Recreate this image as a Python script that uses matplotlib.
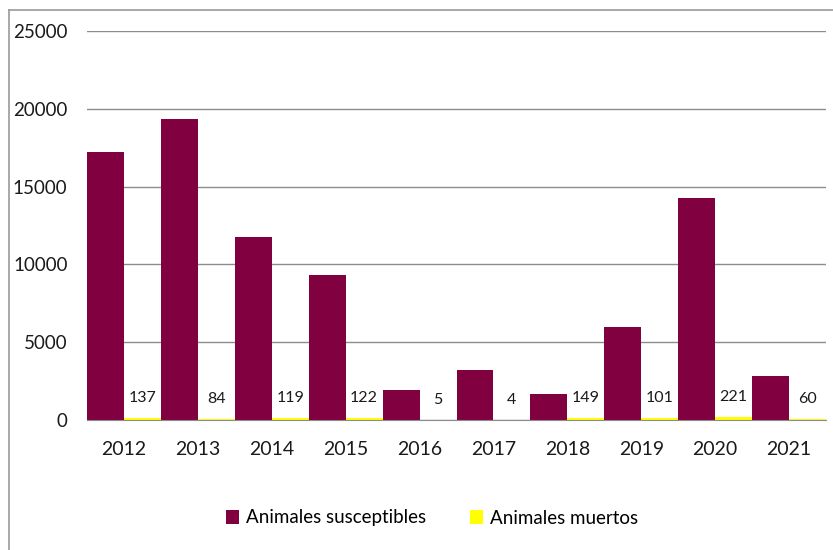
import matplotlib.pyplot as plt
import numpy as np
from matplotlib.lines import Line2D

years = ["2012", "2013", "2014", "2015", "2016", "2017", "2018", "2019", "2020", "2021"]
susceptibles = [17200, 19350, 11750, 9300, 1900, 3200, 1650, 6000, 14250, 2800]
muertos = [137, 84, 119, 122, 5, 4, 149, 101, 221, 60]

MAROON = "#800040"
YELLOW = "#FFFF00"
GRID = "#8c8c8c"

plt.rcParams["font.family"] = ["Lato", "DejaVu Sans"]

fig = plt.figure(figsize=(8.33, 5.5), dpi=100)
ax = fig.add_axes([87 / 833, 1 - 420 / 550, (826 - 87) / 833, (420 - 31) / 550])

x = np.arange(len(years))
w = 0.5
ax.bar(x - w / 2, susceptibles, width=w, color=MAROON, label="Animales susceptibles", zorder=3)
ax.bar(x + w / 2, muertos, width=w, color=YELLOW, label="Animales muertos", zorder=3)

for xi, v in zip(x + w / 2, muertos):
    ax.annotate(str(v), xy=(xi, v), xytext=(0, 20), textcoords="offset pixels",
                ha="center", va="center", fontsize=11.5, color="#1a1a1a")

ax.set_xlim(-0.5, len(years) - 0.5)
ax.set_ylim(0, 25000)
ax.set_yticks(np.arange(0, 25001, 5000))
ax.set_xticks(x)
ax.set_xticklabels(years)
ax.tick_params(axis="both", length=0, colors="#1a1a1a")
ax.tick_params(axis="y", pad=14, labelsize=13.5)
ax.tick_params(axis="x", pad=15, labelsize=14)
ax.yaxis.grid(True, color=GRID, linewidth=1, zorder=0)
for s in ["top", "right", "left"]:
    ax.spines[s].set_visible(False)
ax.spines["bottom"].set_color(GRID)
ax.spines["bottom"].set_zorder(4)

# outer chart frame (only top and left edges visible)
fig.add_artist(Line2D([9 / 833, 1], [1 - 10 / 550, 1 - 10 / 550], color="#9a9a9a", lw=1.2))
fig.add_artist(Line2D([9 / 833, 9 / 833], [0, 1 - 10 / 550], color="#9a9a9a", lw=1.2))

fig.legend(loc="center", bbox_to_anchor=(432 / 833, 1 - 518 / 550), ncol=2, frameon=False,
           fontsize=13.5, handlelength=0.7, handleheight=0.7, handletextpad=0.4,
           columnspacing=2.3)

fig.savefig("out.png", dpi=100)
